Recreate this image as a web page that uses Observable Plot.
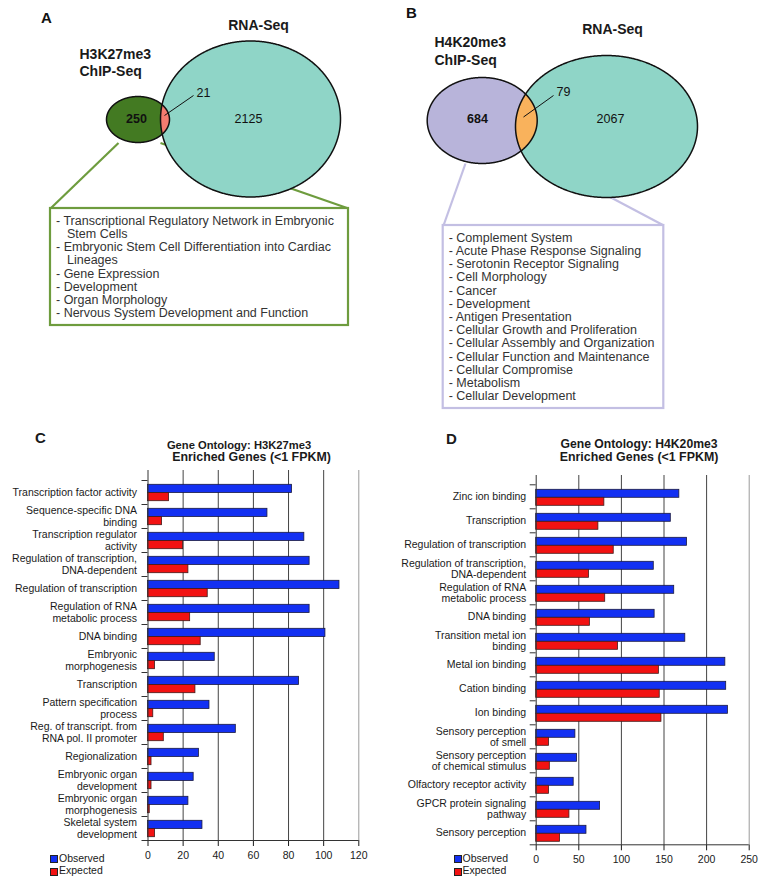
<!DOCTYPE html>
<html><head><meta charset="utf-8">
<script src="https://cdn.jsdelivr.net/npm/d3@7"></script>
<script src="https://cdn.jsdelivr.net/npm/@observablehq/plot@0.6"></script>
<style>
body{margin:0;background:#fff;}
#fig{position:relative;width:764px;height:885px;font-family:"Liberation Sans",Arial,Helvetica,sans-serif;color:#222;overflow:hidden;background:#fff}
#fig svg{position:absolute;overflow:visible}
.sw{position:absolute;width:6px;height:6px;border:0.8px solid #222}
</style></head><body><div id="fig"></div>
<script>
// ---------------- DATA ----------------
const vennSetsA = ["H3K27me3\nChIP-Seq", "RNA-Seq"];
const vennCountsA = [250, 21, 2125];           // ChIP only, overlap, RNA only
const vennSetsB = ["H4K20me3\nChIP-Seq", "RNA-Seq"];
const vennCountsB = [684, 79, 2067];
const pathwaysA = [
  "Transcriptional Regulatory Network in Embryonic\nStem Cells",
  "Embryonic Stem Cell Differentiation into Cardiac\nLineages",
  "Gene Expression", "Development", "Organ Morphology",
  "Nervous System Development and Function"];
const pathwaysB = ["Complement System", "Acute Phase Response Signaling", "Serotonin Receptor Signaling",
  "Cell Morphology", "Cancer", "Development", "Antigen Presentation", "Cellular Growth and Proliferation",
  "Cellular Assembly and Organization", "Cellular Function and Maintenance", "Cellular Compromise",
  "Metabolism", "Cellular Development"];

const titleC = ["Gene Ontology: H3K27me3", "Enriched Genes (<1 FPKM)"];
const catsC = ["Transcription factor activity", "Sequence-specific DNA\nbinding", "Transcription regulator\nactivity",
  "Regulation of transcription,\nDNA-dependent", "Regulation of transcription", "Regulation of RNA\nmetabolic process",
  "DNA binding", "Embryonic\nmorphogenesis", "Transcription", "Pattern specification\nprocess",
  "Reg. of transcript. from\nRNA pol. II promoter", "Regionalization", "Embryonic organ\ndevelopment",
  "Embryonic organ\nmorphogenesis", "Skeletal system\ndevelopment"];
const observedC = [82, 68, 89, 92, 109, 92, 101, 38, 86, 35, 50, 29, 26, 23, 31];
const expectedC = [12, 8, 20, 23, 34, 24, 30, 4, 27, 3, 9, 2, 2, 1, 4];
const ticksC = [0, 20, 40, 60, 80, 100, 120];

const titleD = ["Gene Ontology: H4K20me3", "Enriched Genes (<1 FPKM)"];
const catsD = ["Zinc ion binding", "Transcription", "Regulation of transcription",
  "Regulation of transcription,\nDNA-dependent", "Regulation of RNA\nmetabolic process", "DNA binding",
  "Transition metal ion\nbinding", "Metal ion binding", "Cation binding", "Ion binding",
  "Sensory perception\nof smell", "Sensory perception\nof chemical stimulus", "Olfactory receptor activity",
  "GPCR protein signaling\npathway", "Sensory perception"];
const observedD = [168, 158, 177, 138, 162, 139, 175, 222, 223, 225, 46, 48, 44, 75, 59];
const expectedD = [80, 73, 91, 62, 81, 63, 96, 144, 145, 147, 15, 16, 15, 39, 28];
const ticksD = [0, 50, 100, 150, 200, 250];
const seriesNames = ["Observed", "Expected"];

// ---------------- STYLE / LAYOUT ----------------
const FONT = '"Liberation Sans", Arial, Helvetica, sans-serif';
const BLUE = "#1330f2", RED = "#f21212";
const fig = document.getElementById("fig");

function place(el, left, top) { el.style.left = left + "px"; el.style.top = top + "px"; fig.appendChild(el); }
function htext(str, x, y, size, weight, anchor) {
  const d = document.createElement("div");
  d.textContent = str;
  Object.assign(d.style, {position: "absolute", fontSize: size + "px", fontWeight: weight || "normal",
    lineHeight: "1.1", whiteSpace: "nowrap", color: "#1a1a1a"});
  if (anchor === "middle") d.style.transform = "translateX(-50%)";
  place(d, x, y - size * 0.55);
}

// Venn geometry (schematic layout)
const layA = {
  small: {cx: 137.5, cy: 119, rx: 31.5, ry: 23}, big: {cx: 250, cy: 118.5, rx: 90, ry: 78},
  colors: ["#437a22", "#8fd5c7", "#f47b6f"], box: {x1: 50, x2: 348, y1: 208, y2: 325}, boxColor: "#6e9c3e",
  conn: [[118, 142.5, 50, 208], [160, 142.5, 348, 208]], leader: [164, 115, 193, 95],
  numPos: [[136, 118], [196, 92.5], [248, 118]], letter: [46, 18], setPos: [[79, 61.5], [258, 25]], name: "A"
};
const layB = {
  small: {cx: 481.7, cy: 120, rx: 55, ry: 43}, big: {cx: 606, cy: 126, rx: 91, ry: 71},
  colors: ["#b8b4da", "#8fd5c7", "#f9b25c"], box: {x1: 442.7, x2: 663.3, y1: 225, y2: 408}, boxColor: "#c3bfe3",
  conn: [[465, 163, 443, 225], [521.7, 150, 663.3, 225]], leader: [523, 116.5, 553, 95],
  numPos: [[477, 118], [556, 91], [610, 118]], letter: [411, 13], setPos: [[434, 50], [612, 29]], name: "B"
};

function ellipsePts(e, t0, n = 720) {
  return d3.range(n).map(i => { const t = t0 + 2 * Math.PI * i / n; return {x: e.cx + e.rx * Math.cos(t), y: e.cy + e.ry * Math.sin(t)}; });
}
const inside = (p, e) => ((p.x - e.cx) / e.rx) ** 2 + ((p.y - e.cy) / e.ry) ** 2 <= 1;
function lensPts(a, b) {
  const arcA = ellipsePts(a, -Math.PI).filter(p => inside(p, b));
  const arcB = ellipsePts(b, 0).filter(p => inside(p, a));
  return arcA.concat(arcB);
}

function vennMarks(L, sets, counts, pathways) {
  const s = ellipsePts(L.small, 0), b = ellipsePts(L.big, 0), lens = lensPts(L.small, L.big);
  const lines = [];
  pathways.forEach(p => p.split("\n").forEach((t, j) => lines.push({text: (j ? "" : "- ") + t, indent: j > 0})));
  lines.forEach((d, i) => { d.x = L.box.x1 + (d.indent ? 16.5 : 5.5); d.y = L.box.y1 + 12.2 + i * 13.2; });
  const conn = L.conn.map(c => ({x1: c[0], y1: c[1], x2: c[2], y2: c[3]}));
  const nums = counts.map((c, i) => ({text: String(c), x: L.numPos[i][0], y: L.numPos[i][1], i}));
  return [
    Plot.link(conn, {x1: "x1", y1: "y1", x2: "x2", y2: "y2", stroke: L.boxColor, strokeWidth: 2.2}),
    Plot.rect([L.box], {x1: "x1", x2: "x2", y1: "y1", y2: "y2", fill: "white", stroke: L.boxColor, strokeWidth: 2.2}),
    Plot.text(lines, {x: "x", y: "y", text: "text", textAnchor: "start", fontSize: 12.5, fill: "#333"}),
    Plot.line(s, {x: "x", y: "y", fill: L.colors[0], stroke: "none", curve: "linear-closed"}),
    Plot.line(b, {x: "x", y: "y", fill: L.colors[1], stroke: "none", curve: "linear-closed"}),
    Plot.line(lens, {x: "x", y: "y", fill: L.colors[2], stroke: "none", curve: "linear-closed"}),
    Plot.line(s, {x: "x", y: "y", stroke: "#111", strokeWidth: 1.5, curve: "linear-closed"}),
    Plot.line(b, {x: "x", y: "y", stroke: "#111", strokeWidth: 1.5, curve: "linear-closed"}),
    Plot.link([L.leader], {x1: d => d[0], y1: d => d[1], x2: d => d[2], y2: d => d[3], stroke: "#111", strokeWidth: 1}),
    Plot.text(nums.filter(d => d.i === 0), {x: "x", y: "y", text: "text", fontSize: 12.5, fill: "#111", fontWeight: "bold"}),
    Plot.text(nums.filter(d => d.i === 1), {x: "x", y: "y", text: "text", fontSize: 12.5, fill: "#111", textAnchor: "start"}),
    Plot.text(nums.filter(d => d.i === 2), {x: "x", y: "y", text: "text", fontSize: 12.5, fill: "#111"}),
    Plot.text([sets[0]], {x: L.setPos[0][0], y: L.setPos[0][1], text: d => d, textAnchor: "start",
      fontSize: 14, fontWeight: "bold", lineHeight: 1.22, fill: "#1a1a1a"}),
    Plot.text([sets[1]], {x: L.setPos[1][0], y: L.setPos[1][1], text: d => d, textAnchor: "middle",
      fontSize: 14, fontWeight: "bold", fill: "#1a1a1a"}),
    Plot.text([L.name], {x: L.letter[0], y: L.letter[1], text: d => d, fontSize: 15, fontWeight: "bold", fill: "#111"})
  ];
}

const venn = Plot.plot({
  width: 764, height: 420, margin: 0,
  x: {domain: [0, 764], range: [0, 764], axis: null},
  y: {domain: [0, 420], range: [0, 420], axis: null},
  style: {fontFamily: FONT, background: "transparent"},
  marks: [...vennMarks(layA, vennSetsA, vennCountsA, pathwaysA), ...vennMarks(layB, vennSetsB, vennCountsB, pathwaysB)]
});
place(venn, 0, 0);

// ---------------- BAR CHARTS ----------------
function goChart(cats, obs, exp, ticks, L) {
  const band = (L.yRange[1] - L.yRange[0]) / cats.length;
  const max = ticks[ticks.length - 1];
  const pxPerUnit = (L.width - L.ml - L.mr) / max;
  const obsRows = cats.map((c, i) => ({cat: c, v: obs[i]}));
  const expRows = cats.map((c, i) => ({cat: c, v: exp[i]}));
  const last = cats[cats.length - 1];
  return Plot.plot({
    width: L.width, height: L.height, marginLeft: L.ml, marginRight: L.mr, marginTop: L.mt, marginBottom: L.height - L.yRange[1],
    x: {domain: [0, max], ticks: ticks, tickSize: 6, tickPadding: 5, label: null, tickFormat: d => String(d)},
    y: {domain: cats, range: L.yRange, padding: 0, round: false, axis: null},
    style: {fontFamily: FONT, fontSize: "10.5px", color: "#1a1a1a", background: "transparent"},
    marks: [
      Plot.ruleX(ticks.filter(t => t > 0 && t < max), {stroke: "#444", strokeWidth: 1}),
      Plot.ruleX([max], {stroke: "#9a9a9a", strokeWidth: 1}),
      Plot.barX(obsRows, {x: "v", y: "cat", fill: BLUE, stroke: "#1a1a40", strokeWidth: 0.8,
        insetTop: L.inset, insetBottom: band - L.inset - L.barH}),
      Plot.barX(expRows, {x: "v", y: "cat", fill: RED, stroke: "#401a1a", strokeWidth: 0.8,
        insetTop: L.inset + L.barH, insetBottom: band - L.inset - 2 * L.barH}),
      Plot.ruleX([0], {stroke: "#333", strokeWidth: 1}),
      Plot.ruleY(cats, {y: d => d, x1: -6 / pxPerUnit, x2: 0, dy: -band / 2, stroke: "#333"}),
      Plot.ruleY([last], {y: d => d, x1: -6 / pxPerUnit, x2: max, dy: band / 2, stroke: "#333"}),
      Plot.text(cats, {y: d => d, text: d => d, frameAnchor: "left", textAnchor: "end", dx: L.labelDx,
        fontSize: 10.5, lineHeight: 1.08, fill: "#1a1a1a"})
    ]
  });
}

const chartC = goChart(catsC, observedC, expectedC, ticksC,
  {width: 382, height: 465, ml: 147.5, mr: 23.7, mt: 50, yRange: [60, 420], inset: 4.3, barH: 8.2, labelDx: -11});
place(chartC, 0, 420);
const chartD = goChart(catsD, observedD, expectedD, ticksD,
  {width: 382, height: 465, ml: 153.7, mr: 15.3, mt: 55, yRange: [64.3, 424.3], inset: 5, barH: 8, labelDx: -10});
place(chartD, 382, 420);

// titles, panel letters, legends
htext("C", 35, 438.5, 15, "bold");
htext("D", 446, 439, 15, "bold");
htext(titleC[0], 239, 445, 11.2, "bold", "middle");
htext(titleC[1], 251.5, 458.3, 12.4, "bold", "middle");
htext(titleD[0], 639, 445, 12.2, "bold", "middle");
htext(titleD[1], 639, 458.3, 12.4, "bold", "middle");

function legend(x, y) {
  [BLUE, RED].forEach((c, i) => {
    const s = document.createElement("div"); s.className = "sw"; s.style.background = c;
    place(s, x, y + i * 12.5 - 3.5);
    htext(seriesNames[i], x + 9, y + i * 12.5, 10.5, "normal");
  });
}
legend(50, 858.5);
legend(453.5, 858.5);
</script></body></html>
